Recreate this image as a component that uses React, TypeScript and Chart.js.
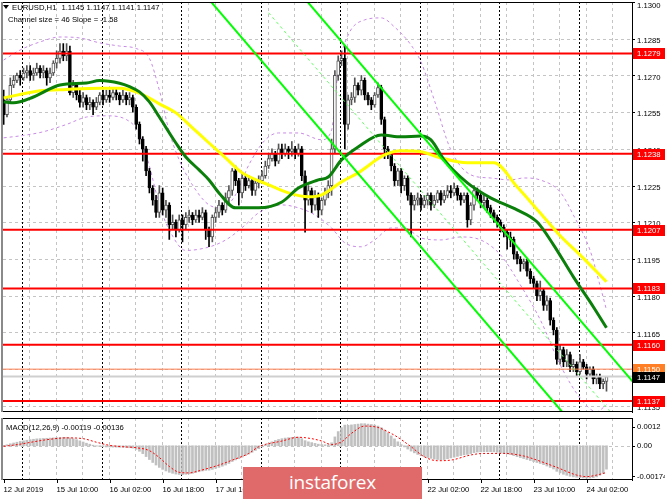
import React, { useEffect, useRef } from "react";
import { Chart, registerables } from "chart.js";
Chart.register(...registerables);

const FAMILY = '"Liberation Sans", Arial, sans-serif';
const FS = 7.7;

// ---------- data ----------
const symbolName = "EURUSD,H1";
const channelSize = 46;
const channelSlope = -1.58;

const opens = [1.1260,1.1254,1.1260,1.1266,1.1268,1.1270,1.1269,1.1271,1.1272,1.1270,
1.1271,1.1273,1.1271,1.1272,1.1269,1.1271,1.1275,1.1277,1.1280,1.1278,
1.1280,1.1263,1.1266,1.1262,1.1259,1.1261,1.1258,1.1259,1.1257,1.1259,
1.1262,1.1260,1.1262,1.1261,1.1263,1.1262,1.1260,1.1262,1.1260,1.1261,
1.1257,1.1250,1.1244,1.1240,1.1231,1.1224,1.1219,1.1214,1.1222,1.1215,
1.1217,1.1209,1.1210,1.1207,1.1211,1.1209,1.1212,1.1213,1.1211,1.1213,
1.1212,1.1214,1.1207,1.1204,1.1212,1.1214,1.1217,1.1215,1.1220,1.1223,
1.1231,1.1227,1.1222,1.1228,1.1225,1.1227,1.1223,1.1226,1.1227,1.1229,
1.1233,1.1236,1.1238,1.1235,1.1240,1.1238,1.1240,1.1239,1.1240,1.1238,
1.1240,1.1229,1.1219,1.1223,1.1217,1.1221,1.1215,1.1219,1.1222,1.1225,
1.1240,1.1270,1.1276,1.1277,1.1250,1.1260,1.1261,1.1266,1.1264,1.1268,
1.1262,1.1260,1.1258,1.1262,1.1265,1.1252,1.1240,1.1238,1.1233,1.1227,
1.1231,1.1225,1.1228,1.1221,1.1217,1.1219,1.1220,1.1217,1.1219,1.1221,
1.1217,1.1219,1.1222,1.1219,1.1221,1.1223,1.1222,1.1224,1.1221,1.1219,
1.1221,1.1211,1.1217,1.1223,1.1221,1.1218,1.1219,1.1216,1.1214,1.1212,
1.1210,1.1208,1.1206,1.1204,1.1203,1.1197,1.1195,1.1193,1.1194,1.1190,
1.1187,1.1185,1.1180,1.1182,1.1176,1.1178,1.1170,1.1166,1.1154,1.1158,
1.1153,1.1156,1.1151,1.1152,1.1149,1.1153,1.1151,1.1148,1.1150,1.1146,
1.1147,1.1144,1.1145];

const highs = [1.1264,1.1261,1.1269,1.1270,1.1271,1.1272,1.1273,1.1274,1.1274,1.1273,
1.1275,1.1274,1.1274,1.1273,1.1273,1.1276,1.1280,1.1283,1.1283,1.1283,
1.1282,1.1268,1.1267,1.1264,1.1263,1.1262,1.1261,1.1260,1.1261,1.1263,
1.1264,1.1264,1.1264,1.1265,1.1265,1.1263,1.1264,1.1263,1.1263,1.1262,
1.1258,1.1251,1.1245,1.1241,1.1232,1.1225,1.1221,1.1225,1.1224,1.1219,
1.1218,1.1213,1.1211,1.1213,1.1213,1.1214,1.1215,1.1214,1.1215,1.1215,
1.1216,1.1215,1.1208,1.1213,1.1216,1.1219,1.1218,1.1222,1.1225,1.1232,
1.1233,1.1228,1.1230,1.1229,1.1229,1.1228,1.1227,1.1229,1.1231,1.1235,
1.1238,1.1240,1.1239,1.1242,1.1242,1.1242,1.1241,1.1243,1.1241,1.1242,
1.1241,1.1231,1.1225,1.1224,1.1223,1.1222,1.1220,1.1224,1.1227,1.1244,
1.1272,1.1278,1.1280,1.1282,1.1262,1.1263,1.1269,1.1267,1.1270,1.1269,
1.1263,1.1261,1.1263,1.1267,1.1266,1.1253,1.1241,1.1239,1.1234,1.1232,
1.1232,1.1229,1.1229,1.1222,1.1221,1.1222,1.1221,1.1221,1.1222,1.1222,
1.1221,1.1223,1.1223,1.1223,1.1225,1.1225,1.1226,1.1225,1.1222,1.1222,
1.1222,1.1218,1.1225,1.1224,1.1222,1.1221,1.1220,1.1217,1.1215,1.1213,
1.1211,1.1209,1.1207,1.1206,1.1204,1.1198,1.1196,1.1195,1.1195,1.1191,
1.1188,1.1186,1.1186,1.1183,1.1180,1.1179,1.1171,1.1167,1.1160,1.1159,
1.1158,1.1157,1.1154,1.1153,1.1156,1.1154,1.1152,1.1151,1.1151,1.1148,
1.1148,1.1146,1.1147];

const lows = [1.1250,1.1253,1.1259,1.1265,1.1267,1.1266,1.1268,1.1269,1.1268,1.1268,
1.1270,1.1269,1.1269,1.1266,1.1267,1.1270,1.1273,1.1275,1.1276,1.1276,
1.1262,1.1261,1.1260,1.1257,1.1257,1.1256,1.1256,1.1254,1.1256,1.1258,
1.1258,1.1259,1.1259,1.1260,1.1260,1.1258,1.1259,1.1258,1.1258,1.1255,
1.1248,1.1242,1.1235,1.1229,1.1222,1.1217,1.1212,1.1212,1.1213,1.1212,
1.1203,1.1207,1.1204,1.1206,1.1202,1.1207,1.1210,1.1209,1.1210,1.1210,
1.1211,1.1203,1.1200,1.1202,1.1210,1.1212,1.1213,1.1214,1.1218,1.1221,
1.1225,1.1217,1.1220,1.1223,1.1224,1.1221,1.1221,1.1224,1.1226,1.1228,
1.1232,1.1235,1.1233,1.1234,1.1236,1.1237,1.1236,1.1237,1.1236,1.1237,
1.1227,1.1206,1.1217,1.1214,1.1215,1.1212,1.1213,1.1217,1.1220,1.1221,
1.1238,1.1268,1.1274,1.1240,1.1248,1.1258,1.1259,1.1262,1.1262,1.1260,
1.1258,1.1256,1.1257,1.1261,1.1250,1.1236,1.1236,1.1231,1.1225,1.1225,
1.1222,1.1223,1.1219,1.1204,1.1215,1.1217,1.1215,1.1216,1.1217,1.1215,
1.1216,1.1218,1.1217,1.1218,1.1220,1.1220,1.1221,1.1219,1.1217,1.1218,
1.1208,1.1209,1.1215,1.1219,1.1216,1.1216,1.1214,1.1212,1.1210,1.1208,
1.1206,1.1204,1.1199,1.1200,1.1195,1.1193,1.1190,1.1191,1.1188,1.1185,
1.1183,1.1178,1.1178,1.1174,1.1174,1.1168,1.1164,1.1152,1.1152,1.1151,
1.1151,1.1149,1.1149,1.1147,1.1148,1.1150,1.1146,1.1147,1.1144,1.1144,
1.1142,1.1142,1.1141];

const closes = [1.1254,1.1260,1.1266,1.1268,1.1270,1.1269,1.1271,1.1272,1.1270,1.1271,
1.1273,1.1271,1.1272,1.1269,1.1271,1.1275,1.1277,1.1280,1.1278,1.1280,
1.1263,1.1266,1.1262,1.1259,1.1261,1.1258,1.1259,1.1257,1.1259,1.1262,
1.1260,1.1262,1.1261,1.1263,1.1262,1.1260,1.1262,1.1260,1.1261,1.1257,
1.1250,1.1244,1.1240,1.1231,1.1224,1.1219,1.1214,1.1222,1.1215,1.1217,
1.1209,1.1210,1.1207,1.1211,1.1209,1.1212,1.1213,1.1211,1.1213,1.1212,
1.1214,1.1207,1.1204,1.1212,1.1214,1.1217,1.1215,1.1220,1.1223,1.1231,
1.1227,1.1222,1.1228,1.1225,1.1227,1.1223,1.1226,1.1227,1.1229,1.1233,
1.1236,1.1238,1.1235,1.1240,1.1238,1.1240,1.1239,1.1240,1.1238,1.1240,
1.1229,1.1219,1.1223,1.1217,1.1221,1.1215,1.1219,1.1222,1.1225,1.1240,
1.1270,1.1276,1.1277,1.1250,1.1260,1.1261,1.1266,1.1264,1.1268,1.1262,
1.1260,1.1258,1.1262,1.1265,1.1252,1.1240,1.1238,1.1233,1.1227,1.1231,
1.1225,1.1228,1.1221,1.1217,1.1219,1.1220,1.1217,1.1219,1.1221,1.1217,
1.1219,1.1222,1.1219,1.1221,1.1223,1.1222,1.1224,1.1221,1.1219,1.1221,
1.1211,1.1217,1.1223,1.1221,1.1218,1.1219,1.1216,1.1214,1.1212,1.1210,
1.1208,1.1206,1.1204,1.1203,1.1197,1.1195,1.1193,1.1194,1.1190,1.1187,
1.1185,1.1180,1.1182,1.1176,1.1178,1.1170,1.1166,1.1154,1.1158,1.1153,
1.1156,1.1151,1.1152,1.1149,1.1153,1.1151,1.1148,1.1150,1.1146,1.1147,
1.1144,1.1145,1.1147];

// moving averages [bar, price]
const maYellow = [[0,1.12608],[11,1.12637],[19,1.12643],[29,1.12648],[35,1.12648],[41,1.12628],[47,1.12584],[52,1.12547],[57,1.12486],[62,1.12424],[67,1.12363],[72,1.12302],[80,1.12253],[86,1.12220],[92,1.12204],[96,1.12212],[102,1.12265],[107,1.12302],[115,1.12375],[120,1.12392],[126,1.12388],[131,1.12367],[140,1.12343],[148,1.12343],[155,1.12245],[162,1.12138],[168,1.12045],[174,1.11967],[182,1.11857]];
const maGreen = [[0,1.12592],[3,1.12588],[9,1.12612],[17,1.12661],[25,1.12669],[29,1.12679],[35,1.12668],[38,1.12654],[41,1.12633],[44,1.12592],[47,1.12530],[52,1.12424],[55,1.12367],[59,1.12314],[62,1.12273],[65,1.12220],[70,1.12159],[77,1.12159],[84,1.12183],[89,1.12240],[95,1.12273],[98,1.12285],[102,1.12355],[107,1.12408],[114,1.12457],[120,1.12449],[126,1.12453],[129,1.12437],[133,1.12355],[140,1.12261],[147,1.12200],[155,1.12151],[161,1.12102],[166,1.12008],[172,1.11877],[178,1.11755],[182,1.11669]];
const bbUpper = [[0,1.12763],[5,1.12804],[11,1.12837],[17,1.12857],[23,1.12853],[29,1.12833],[35,1.12820],[40,1.12810],[44,1.12770],[47,1.12640],[50,1.12470],[53,1.12355],[58,1.12232],[62,1.12171],[66,1.12159],[70,1.12212],[74,1.12334],[79,1.12437],[83,1.12465],[89,1.12465],[96,1.12437],[99,1.12477],[101,1.12722],[104,1.12865],[109,1.12927],[114,1.12935],[118,1.12898],[123,1.12824],[126,1.12755],[130,1.12600],[135,1.12396],[141,1.12294],[147,1.12281],[153,1.12273],[157,1.12281],[162,1.12273],[168,1.12224],[172,1.12130],[177,1.11987],[180,1.11844],[182,1.11742]];
const bbLower = [[0,1.12445],[6,1.12455],[12,1.12470],[19,1.12500],[25,1.12530],[31,1.12535],[37,1.12520],[41,1.12460],[44,1.12330],[47,1.12171],[50,1.12069],[55,1.11985],[59,1.11990],[64,1.12008],[68,1.12036],[73,1.12090],[77,1.12139],[84,1.12171],[89,1.12159],[94,1.12130],[99,1.12077],[103,1.12016],[108,1.12000],[112,1.12028],[117,1.12077],[121,1.12077],[126,1.12036],[132,1.12028],[138,1.12040],[144,1.12028],[150,1.11967],[156,1.11844],[162,1.11702],[168,1.11518],[174,1.11383],[179,1.11326],[182,1.11355]];

// channel: [bar, price] endpoints
const channelUpper = [[80,1.13186],[190,1.11448]];
const channelMiddle = [[80,1.12956],[190,1.11218]];
const channelLower = [[60,1.13042],[190,1.10988]];

const levels = [1.1279, 1.1238, 1.1207, 1.1183, 1.1160, 1.1137];
const askLevel = 1.1150;
const bidLevel = 1.1147;
const priceTicks = [1.1300,1.1285,1.1270,1.1255,1.1240,1.1225,1.1210,1.1195,1.1180,1.1165,1.1150,1.1135];

const macdHist = [0.00002,0.00005,0.0001,0.00014,0.00018,0.00022,0.00025,0.00028,0.00031,0.00033,
0.00035,0.00036,0.00037,0.00038,0.00039,0.0004,0.00041,0.00042,0.00043,0.00043,0.0004,
0.00036,0.00031,0.00025,0.00019,0.00013,0.00008,
0.00003,-0.00002,-0.00004,
-0.00005,-0.00006,-0.00006,-0.00007,-0.00007,-0.00008,-0.00008,-0.00009,-0.0001,-0.00012,-0.00018,-0.00028,
-0.0004,-0.00055,-0.0007,-0.00085,-0.00098,-0.0011,
-0.0012,-0.00128,-0.00135,-0.0014,-0.00144,-0.00146,-0.00147,-0.00145,
-0.00143,-0.0014,-0.00136,-0.00132,-0.00128,-0.00125,-0.00124,
-0.0012,-0.00115,-0.0011,-0.00104,-0.00098,-0.0009,-0.0008,-0.00072,-0.00066,
-0.00058,-0.0005,-0.00042,-0.00033,-0.00024,-0.00015,
-0.00006,0.00003,0.00012,0.0002,0.00027,0.00032,0.00036,0.00039,0.00041,0.00043,0.00044,0.00044,
0.00036,0.00026,0.0002,0.00016,0.00012,0.00008,0.00006,0.00005,0.00005,
0.00015,0.00045,0.00072,0.00092,0.00105,0.00104,
0.00106,0.00108,0.0011,0.00112,0.00112,0.0011,0.00108,0.00105,
0.001,0.00092,0.0008,0.00066,0.0005,0.00035,0.0002,
0.00006,-0.00006,-0.00017,-0.00027,-0.00036,-0.00044,-0.0005,-0.00055,-0.0006,-0.00064,-0.00068,-0.0007,-0.00071,
-0.0007,-0.00066,-0.00062,-0.00058,-0.00054,-0.0005,-0.00046,-0.00044,-0.0004,-0.00035,-0.00032,-0.00031,
-0.0003,-0.0003,-0.0003,-0.00031,-0.00033,-0.00035,-0.00038,
-0.00041,-0.00045,-0.0005,-0.00055,-0.0006,-0.00065,-0.0007,-0.00075,-0.0008,-0.00085,-0.0009,
-0.00096,-0.00103,-0.0011,-0.00118,-0.0013,-0.00138,-0.00145,-0.0015,-0.00155,
-0.00158,-0.0016,-0.00162,-0.00163,-0.00164,-0.00164,-0.00162,-0.00158,-0.0015,-0.0014,-0.00119];
const macdSignal = [[0,-0.00003],[5,0.00008],[9,0.0002],[14,0.00033],[19,0.0004],[24,0.00036],[28,0.00018],[32,0.00002],[36,-0.00005],[40,-0.0001],[44,-0.00025],[47,-0.0006],[50,-0.00105],[53,-0.00135],[56,-0.00138],[59,-0.00127],[65,-0.00098],[69,-0.00073],[74,-0.00039],[77,-0.00005],[84,0.00024],[89,0.00043],[93,0.00036],[96,0.00024],[99,0.00006],[102,0.0002],[105,0.00063],[109,0.001],[113,0.00093],[116,0.00071],[119,0.00043],[123,-0.00005],[127,-0.00056],[131,-0.00076],[135,-0.00073],[141,-0.00047],[145,-0.00039],[151,-0.00039],[157,-0.00052],[161,-0.00073],[167,-0.0011],[173,-0.00149],[176,-0.00157],[179,-0.00149],[182,-0.00136]];
const macdLastMain = -0.00119;
const macdLastSignal = -0.00136;
const macdMax = 0.00141;
const macdMin = -0.00174;
const macdAxisValues = [0.0012, 0, -0.00174];
const macdAxisLabels = ["0.0012", "0.00", "-0.00174"];

const timeLabels = ["12 Jul 2019","15 Jul 10:00","16 Jul 02:00","16 Jul 18:00","17 Jul 10:00","18 Jul 02:00","18 Jul 18:00","19 Jul 10:00","22 Jul 02:00","22 Jul 18:00","23 Jul 10:00","24 Jul 02:00"];
const labelBars = [0,16,32,48,64,80,96,112,128,144,160,176];
const gridBars = [8,16,24,32,40,48,56,64,72,80,88,96,104,112,120,128,136,144,152,160,168,176,184];
const daySeparators = [6,30,54,78,102,126,150,174];

const X_MIN = -0.2;
const X_MAX = 189.7;
const Y_MIN = 1.11325;
const Y_MAX = 1.1300;

// ---------- helpers ----------
const pts = (arr: number[][]) => arr.map(([x, y]) => ({ x, y }));
const isBull = (i: number) => closes[i] >= opens[i];

function drawVerticalGrid(chart: any) {
  const { ctx, chartArea: a, scales } = chart;
  const x = scales.x;
  ctx.save();
  ctx.beginPath();
  ctx.rect(a.left, a.top, a.right - a.left, a.bottom - a.top);
  ctx.clip();
  ctx.lineWidth = 1;
  ctx.setLineDash([3, 3]);
  ctx.strokeStyle = "#c4c4c4";
  gridBars.forEach((b) => {
    const px = Math.round(x.getPixelForValue(b - 0.25)) + 0.5;
    ctx.beginPath();
    ctx.moveTo(px, a.top);
    ctx.lineTo(px, a.bottom);
    ctx.stroke();
  });
  ctx.strokeStyle = "#000";
  ctx.setLineDash([2, 2]);
  daySeparators.forEach((b) => {
    const px = Math.round(x.getPixelForValue(b - 0.45)) + 0.5;
    ctx.beginPath();
    ctx.moveTo(px, a.top);
    ctx.lineTo(px, a.bottom);
    ctx.stroke();
  });
  ctx.restore();
}

function drawFrame(chart: any) {
  const { ctx, chartArea: a } = chart;
  ctx.save();
  ctx.setLineDash([]);
  ctx.strokeStyle = "#000";
  ctx.lineWidth = 1;
  ctx.beginPath();
  ctx.moveTo(a.left, a.top + 0.5);
  ctx.lineTo(a.right, a.top + 0.5);
  ctx.moveTo(a.left, a.bottom - 0.5);
  ctx.lineTo(a.right, a.bottom - 0.5);
  ctx.stroke();
  ctx.strokeStyle = "#8a8a8a";
  ctx.lineWidth = 2;
  ctx.beginPath();
  ctx.moveTo(a.left - 1, a.top);
  ctx.lineTo(a.left - 1, a.bottom);
  ctx.stroke();
  ctx.restore();
}

const mainDecor = {
  id: "mainDecor",
  beforeDatasetsDraw(chart: any) {
    const { ctx, chartArea: a, scales } = chart;
    const y = scales.y;
    ctx.save();
    ctx.lineWidth = 1;
    ctx.setLineDash([3, 3]);
    ctx.strokeStyle = "#c4c4c4";
    priceTicks.forEach((v) => {
      const py = Math.round(y.getPixelForValue(v)) + 0.5;
      if (py < a.top + 2 || py > a.bottom - 1) return;
      ctx.beginPath();
      ctx.moveTo(a.left, py);
      ctx.lineTo(a.right, py);
      ctx.stroke();
    });
    ctx.restore();
    drawVerticalGrid(chart);
  },
  afterDraw(chart: any) {
    const { ctx, chartArea: a, scales } = chart;
    const y = scales.y;
    drawFrame(chart);
    ctx.save();
    ctx.font = `${FS}px ${FAMILY}`;
    ctx.textBaseline = "middle";
    ctx.textAlign = "left";
    ctx.fillStyle = "#000";
    ctx.strokeStyle = "#000";
    ctx.lineWidth = 1;
    priceTicks.forEach((v) => {
      const py = y.getPixelForValue(v);
      const ty = Math.round(py) + 0.5;
      ctx.beginPath();
      ctx.moveTo(a.right, ty);
      ctx.lineTo(a.right + 3, ty);
      ctx.stroke();
      ctx.fillText(v.toFixed(4), a.right + 5, Math.max(py + 2, a.top + 3.5));
    });
    const tags: [number, string, string][] = [
      ...levels.map((v) => [v, "#ff0000", "#ffffff"] as [number, string, string]),
      [askLevel, "#ff7f27", "#ffffff"],
      [bidLevel, "#000000", "#ffffff"],
    ];
    tags.forEach(([v, bg, fg]) => {
      const py = y.getPixelForValue(v);
      ctx.fillStyle = bg;
      ctx.fillRect(a.right + 1, Math.round(py) - 5, 33, 11);
      ctx.fillStyle = fg;
      ctx.fillText(v.toFixed(4), a.right + 5, Math.round(py) + 0.5);
    });
    const last = closes.length - 1;
    ctx.fillStyle = "#000";
    ctx.beginPath();
    ctx.moveTo(3, 5);
    ctx.lineTo(9, 5);
    ctx.lineTo(6, 9);
    ctx.closePath();
    ctx.fill();
    ctx.fillText(symbolName, 12, 7.5);
    const symW = ctx.measureText(symbolName).width;
    ctx.fillText(
      `${opens[last].toFixed(4)} ${highs[last].toFixed(4)} ${lows[last].toFixed(4)} ${closes[last].toFixed(4)}`,
      Math.max(57, 12 + symW + 5), 7.5
    );
    ctx.fillText(`Channel size = ${channelSize} Slope = ${channelSlope.toFixed(2)}`, 8, 19.5);
    ctx.restore();
  },
};

const macdDecor = {
  id: "macdDecor",
  beforeDatasetsDraw(chart: any) {
    const { ctx, chartArea: a, scales } = chart;
    drawVerticalGrid(chart);
    ctx.save();
    ctx.setLineDash([3, 3]);
    ctx.strokeStyle = "#c4c4c4";
    ctx.lineWidth = 1;
    const py = Math.round(scales.y.getPixelForValue(0)) + 0.5;
    ctx.beginPath();
    ctx.moveTo(a.left, py);
    ctx.lineTo(a.right, py);
    ctx.stroke();
    ctx.restore();
  },
  afterDraw(chart: any) {
    const { ctx, chartArea: a, scales } = chart;
    drawFrame(chart);
    ctx.save();
    ctx.font = `${FS}px ${FAMILY}`;
    ctx.fillStyle = "#000";
    ctx.textBaseline = "middle";
    ctx.textAlign = "left";
    ctx.fillText(`MACD(12,26,9) ${macdLastMain.toFixed(5)} ${macdLastSignal.toFixed(5)}`, 6, a.top + 10);
    ctx.strokeStyle = "#000";
    ctx.lineWidth = 1;
    macdAxisValues.forEach((v, k) => {
      const raw = scales.y.getPixelForValue(v);
      const ly = Math.min(Math.max(raw, a.top + 8.5), a.bottom - 4);
      ctx.beginPath();
      ctx.moveTo(a.right, Math.round(ly) + 0.5);
      ctx.lineTo(a.right + 3, Math.round(ly) + 0.5);
      ctx.stroke();
      ctx.fillText(macdAxisLabels[k], a.right + 5, ly + 0.5);
    });
    labelBars.forEach((b, k) => {
      const px = Math.round(scales.x.getPixelForValue(b)) + 0.5;
      ctx.beginPath();
      ctx.moveTo(px, a.bottom);
      ctx.lineTo(px, a.bottom + 3);
      ctx.stroke();
      ctx.fillText(timeLabels[k], px - 1, a.bottom + 9.5);
    });
    ctx.restore();
  },
};

const lineDs = (data: any[], color: string, width: number, order: number, dash: number[] = [], smooth = 0.4) => ({
  type: "line" as const,
  data,
  borderColor: color,
  borderWidth: width,
  borderDash: dash,
  pointRadius: 0,
  tension: smooth,
  cubicInterpolationMode: smooth ? ("monotone" as const) : ("default" as const),
  fill: false,
  order,
  clip: 0,
});

const fixedAxis = (s: any) => {
  s.width = 33;
  s.paddingTop = 0;
  s.paddingBottom = 0;
};

export default function App() {
  const mainRef = useRef<HTMLCanvasElement>(null);
  const macdRef = useRef<HTMLCanvasElement>(null);

  useEffect(() => {
    const bars = closes.map((_, i) => i);
    const wickData = bars.map((i) => ({ x: i, y: [lows[i], highs[i]] }));
    const bodyData = bars.map((i) => {
      let lo = Math.min(opens[i], closes[i]);
      let hi = Math.max(opens[i], closes[i]);
      if (hi - lo < 0.00002) { lo -= 0.00001; hi += 0.00001; }
      return { x: i, y: [lo, hi] };
    });

    const main = new Chart(mainRef.current as HTMLCanvasElement, {
      type: "bar",
      data: {
        datasets: [
          lineDs(pts(bbUpper), "#c98ae6", 1, 12, [3, 3]),
          lineDs(pts(bbLower), "#c98ae6", 1, 12, [3, 3]),
          {
            type: "bar",
            data: wickData,
            backgroundColor: (c: any) => (isBull(c.dataIndex) ? "#555555" : "#000000"),
            barThickness: 1,
            grouped: false,
            order: 10,
          } as any,
          {
            type: "bar",
            data: bodyData,
            backgroundColor: (c: any) => (isBull(c.dataIndex) ? "#ffffff" : "#000000"),
            borderColor: (c: any) => (isBull(c.dataIndex) ? "#555555" : "#000000"),
            borderWidth: 1,
            borderSkipped: false,
            barThickness: 3,
            grouped: false,
            order: 9,
          } as any,
          ...levels.map((v) => lineDs([{ x: -1, y: v }, { x: 200, y: v }], "#ff0000", 2, 8, [], 0)),
          lineDs([{ x: -1, y: askLevel }, { x: 200, y: askLevel }], "#ff7f50", 1, 8, [], 0),
          lineDs([{ x: -1, y: bidLevel }, { x: 200, y: bidLevel }], "#cfcfcf", 2, 8, [], 0),
          lineDs(pts(maYellow), "#ffff00", 3, 7),
          lineDs(pts(maGreen), "#0a7f0a", 3, 6),
          lineDs(pts(channelUpper), "#00ff00", 2, 5, [], 0),
          lineDs(pts(channelLower), "#00ff00", 2, 5, [], 0),
          lineDs(pts(channelMiddle), "#66ff66", 1, 5, [3, 3], 0),
        ] as any,
      },
      options: {
        animation: false,
        responsive: false,
        devicePixelRatio: 1,
        events: [],
        layout: { padding: { left: 3, top: 2, bottom: 2, right: 0 } },
        plugins: { legend: { display: false }, tooltip: { enabled: false } },
        scales: {
          x: { type: "linear", min: X_MIN, max: X_MAX, display: false, offset: false },
          y: {
            position: "right",
            min: Y_MIN,
            max: Y_MAX,
            afterFit: fixedAxis,
            ticks: { display: false },
            grid: { display: false },
            border: { display: true, color: "#000" },
          },
        },
      } as any,
      plugins: [mainDecor],
    });

    const macd = new Chart(macdRef.current as HTMLCanvasElement, {
      type: "bar",
      data: {
        datasets: [
          lineDs(pts(macdSignal), "#ff0000", 1, 1, [2, 2]),
          {
            type: "bar",
            data: bars.map((i) => ({ x: i, y: macdHist[i] })),
            backgroundColor: "#c0c0c0",
            barThickness: 2,
            grouped: false,
            order: 2,
          } as any,
        ] as any,
      },
      options: {
        animation: false,
        responsive: false,
        devicePixelRatio: 1,
        events: [],
        layout: { padding: { left: 3, top: 4, bottom: 19, right: 0 } },
        plugins: { legend: { display: false }, tooltip: { enabled: false } },
        scales: {
          x: { type: "linear", min: X_MIN, max: X_MAX, display: false, offset: false },
          y: {
            position: "right",
            min: macdMin,
            max: macdMax,
            afterFit: fixedAxis,
            ticks: { display: false },
            grid: { display: false },
            border: { display: true, color: "#000" },
          },
        },
      } as any,
      plugins: [macdDecor],
    });

    return () => {
      main.destroy();
      macd.destroy();
    };
  }, []);

  return (
    <div style={{ position: "fixed", left: 0, top: 0, width: 665, height: 499, background: "#fff", overflow: "hidden" }}>
      <canvas ref={mainRef} width={665} height={414} style={{ position: "absolute", left: 0, top: 0, width: 665, height: 414 }} />
      <canvas ref={macdRef} width={665} height={85} style={{ position: "absolute", left: 0, top: 414, width: 665, height: 85 }} />
      <div style={{ position: "absolute", left: 243, top: 467, width: 179, height: 32, background: "#e06a6a" }}>
        <span style={{ position: "absolute", left: 46, top: 1, color: "#fff", fontFamily: '"Open Sans", sans-serif', fontSize: 19, lineHeight: "28px", letterSpacing: -0.2 }}>
          instaforex
        </span>
      </div>
    </div>
  );
}
